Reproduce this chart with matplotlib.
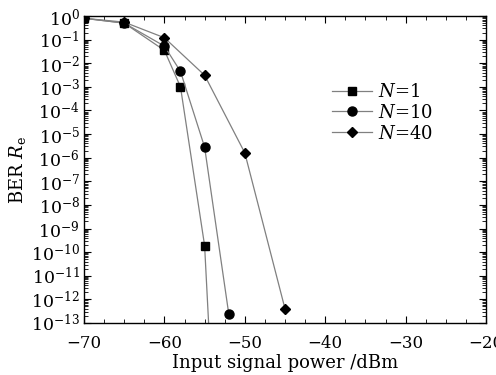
import numpy as np
import matplotlib
matplotlib.use("Agg")
import matplotlib.pyplot as plt
from matplotlib.ticker import MultipleLocator, LogLocator, NullFormatter

plt.rcParams["font.family"] = "DejaVu Serif"
plt.rcParams["mathtext.fontset"] = "dejavuserif"

power_n1 = [-70, -65, -60, -58, -55, -54]
ber_n1 = [0.8, 0.5, 0.035, 1e-3, 1.9e-10, 5e-17]

power_n10 = [-70, -65, -60, -58, -55, -52]
ber_n10 = [0.8, 0.5, 0.053, 4.5e-3, 2.8e-6, 2.5e-13]

power_n40 = [-70, -65, -60, -55, -50, -45]
ber_n40 = [0.8, 0.55, 0.12, 3.1e-3, 1.6e-6, 4e-13]

labels = ["$N$=1", "$N$=10", "$N$=40"]

fig = plt.figure(figsize=(4.96, 3.75), dpi=100)
ax = fig.add_axes([84 / 496, 1 - 323 / 375, 402 / 496, 307 / 375])

line_kw = dict(color="#808080", lw=0.9, markerfacecolor="black",
               markeredgecolor="black", clip_on=True)
ax.plot(power_n1, ber_n1, marker="s", ms=5.5, label=labels[0], **line_kw)
ax.plot(power_n10, ber_n10, marker="o", ms=6.5, label=labels[1], **line_kw)
ax.plot(power_n40, ber_n40, marker="D", ms=5.5, label=labels[2], **line_kw)

ax.set_yscale("log")
ax.set_xlim(-70, -20)
ax.set_ylim(1e-13, 1)
ax.xaxis.set_major_locator(MultipleLocator(10))
ax.xaxis.set_minor_locator(MultipleLocator(2.5))
ax.yaxis.set_major_locator(LogLocator(base=10, numticks=20))
ax.yaxis.set_minor_locator(LogLocator(base=10, subs=np.arange(2, 10), numticks=200))
ax.yaxis.set_minor_formatter(NullFormatter())

ax.tick_params(which="both", direction="in", top=True, right=True)
ax.tick_params(axis="x", pad=9, labelsize=12)
ax.tick_params(axis="y", pad=3, labelsize=12.5)
ax.tick_params(which="major", length=5)
ax.tick_params(which="minor", length=3)
for s in ax.spines.values():
    s.set_linewidth(1.0)

ax.set_xlabel("Input signal power /dBm", fontsize=13, labelpad=1)
ax.set_ylabel("BER $R_\\mathrm{e}$", fontsize=13, labelpad=2)

ax.legend(loc="upper left", bbox_to_anchor=(0.6, 0.805), frameon=False,
          fontsize=13, handlelength=2.2, handletextpad=0.3, labelspacing=0.15,
          borderaxespad=0)

fig.savefig("out.png", dpi=100)
